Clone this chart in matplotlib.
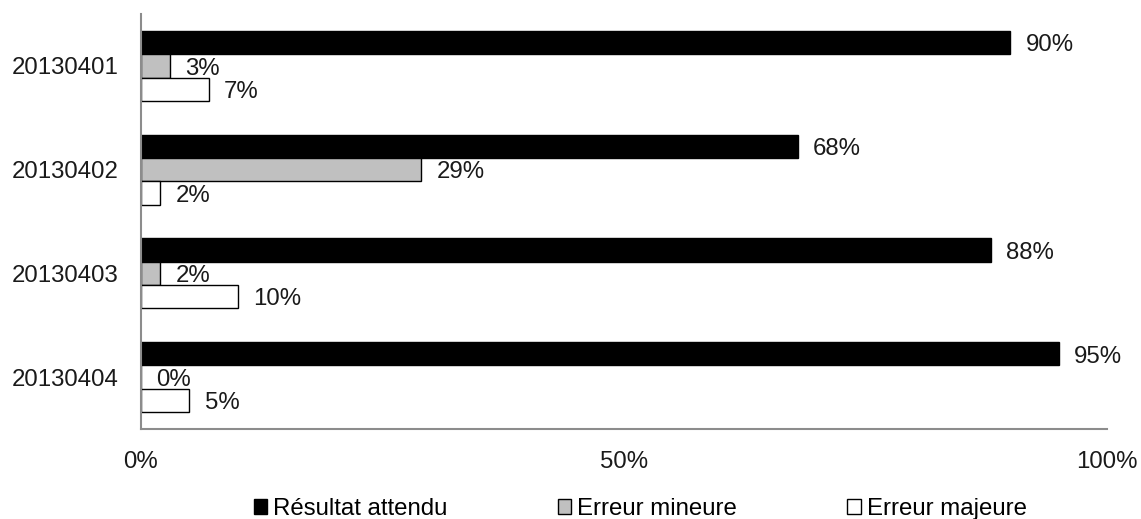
import matplotlib
matplotlib.use("Agg")
import matplotlib.pyplot as plt
import numpy as np
from matplotlib.patches import Patch

categories = ["20130401", "20130402", "20130403", "20130404"]
series_names = ["Résultat attendu", "Erreur mineure", "Erreur majeure"]
resultat = [90, 68, 88, 95]
mineure = [3, 29, 2, 0]
majeure = [7, 2, 10, 5]
xticks = [0, 50, 100]
xticklabels = ["0%", "50%", "100%"]

colors = ["#000000", "#C0C0C0", "#FFFFFF"]

plt.rcParams['font.family'] = ['Liberation Sans', 'DejaVu Sans']
fs = 17.3

fig = plt.figure(figsize=(11.41, 5.19), dpi=100)
W, H = 1141, 519
ax = fig.add_axes([141 / W, 1 - 429 / H, (1107 - 141) / W, (429 - 14) / H])

y = np.arange(len(categories))
h = 0.225
data = [resultat, mineure, majeure]
for k, (vals, c) in enumerate(zip(data, colors)):
    pos = y + (k - 1) * h
    ax.barh(pos, vals, height=h, color=c, edgecolor="black", linewidth=1.0)
    for p, v in zip(pos, vals):
        ax.annotate(f"{v}%", (v, p), xytext=(11, -2), textcoords="offset points",
                    va="center", ha="left", fontsize=fs, color="#1a1a1a")

ax.set_xlim(0, 100)
ax.set_ylim(len(categories) - 0.5, -0.5)
ax.set_yticks(y)
ax.set_yticklabels(categories, fontsize=fs, color="#1a1a1a")
ax.set_xticks(xticks)
ax.set_xticklabels(xticklabels, fontsize=fs, color="#1a1a1a")
ax.tick_params(axis="both", length=0)
ax.tick_params(axis="x", pad=16)
ax.tick_params(axis="y", pad=16)
for s in ["top", "right"]:
    ax.spines[s].set_visible(False)
for s in ["left", "bottom"]:
    ax.spines[s].set_color("#8c8c8c")
    ax.spines[s].set_linewidth(1.5)

handles = [Patch(facecolor=c, edgecolor="black", linewidth=1.0, label=n)
           for c, n in zip(colors, series_names)]
fig.legend(handles=handles, loc="center", bbox_to_anchor=(0.561, 1 - 509 / H),
           ncol=3, frameon=False, fontsize=fs, handlelength=0.55, handleheight=0.55,
           handletextpad=0.25, columnspacing=4.6)

fig.savefig("out.png", dpi=100)
